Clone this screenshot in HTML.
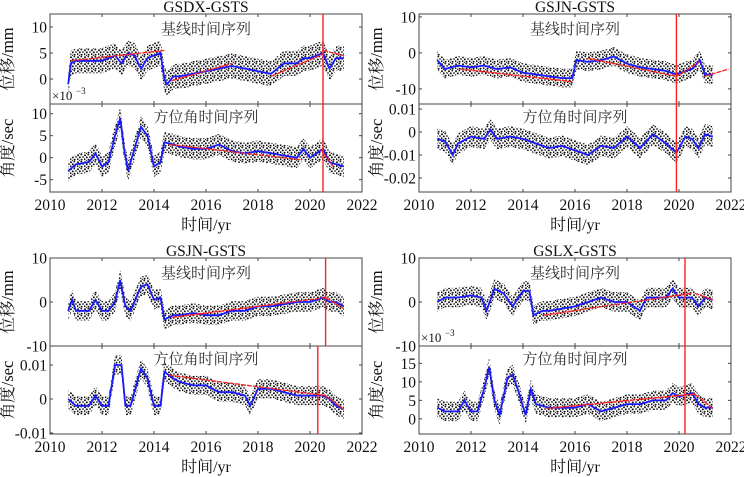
<!DOCTYPE html>
<html><head><meta charset="utf-8">
<style>
html,body{margin:0;padding:0;background:#fff;}
svg{display:block;font-family:"Liberation Serif","Noto Serif CJK SC","Noto Sans CJK SC",serif;}
</style></head>
<body>
<svg id="chart" width="744" height="477" viewBox="0 0 744 477">
<defs>
<pattern id="dots" width="7" height="7" patternUnits="userSpaceOnUse">
<rect width="7" height="7" fill="#fff"/>
<circle cx="1" cy="1.2" r="1" fill="#111"/>
<circle cx="4.3" cy="0.6" r="0.9" fill="#222"/>
<circle cx="2.8" cy="3.4" r="1" fill="#111"/>
<circle cx="6" cy="3" r="0.9" fill="#222"/>
<circle cx="0.6" cy="5.2" r="0.9" fill="#111"/>
<circle cx="4.6" cy="5.8" r="1" fill="#111"/>
<circle cx="2.5" cy="6.5" r="0.7" fill="#333"/>
</pattern>
</defs>
</svg>
<script>
// ---- data ----
const yrsA1=[2010.7,2010.8,2011,2011.5,2012,2012.5,2012.75,2013,2013.25,2013.5,2013.75,2014,2014.25,2014.4,2014.5,2014.75,2015,2015.5,2016,2016.5,2017,2017.5,2018,2018.5,2018.75,2019,2019.5,2019.75,2020,2020.25,2020.5,2020.75,2021,2021.3];
const baseA1=[-1,3,3.5,3.5,3.5,4.5,3,5,4.5,2,4,4.5,5,0,-1,0.5,0.5,1,1.5,2,2.5,2,1.5,1,2,3,3,4,4,4.5,5,2,4,4];
const sprA1=2.4;
const yrsB1=[2010.7,2011,2011.5,2011.75,2012,2012.25,2012.5,2012.7,2012.85,2013,2013.25,2013.5,2013.75,2014,2014.25,2014.4,2014.75,2015,2015.5,2016,2016.5,2017,2017.5,2018,2018.5,2019,2019.5,2019.75,2020,2020.25,2020.5,2020.75,2021,2021.3];
const angB1=[-3,-1.5,-1,1,-2,-1,5,9,2,-3,2,7,5,-2,-1,3.5,3,2.5,2,2,3,1.5,1,1.5,1,0.5,0,2,0,1,2,-1,-1.5,-2];
const sprB1=2.4;
const trendA1=[[2010.8,3.5,2014.4,5.5],[2014.7,-0.3,2017,3],[2018.5,0.5,2020.5,4.8],[2020.5,5.5,2021.3,4.5]];
const trendB1=[[2014.6,3,2019.7,-0.5],[2020.4,2,2020.9,-2]];

const yrsA2=[2010.7,2011,2011.5,2012,2012.5,2013,2013.5,2014,2014.5,2015,2015.5,2015.9,2016.05,2016.5,2017,2017.5,2018,2018.5,2019,2019.5,2019.9,2020.25,2020.5,2020.8,2021,2021.3];
const baseA2=[-2,-4.5,-3.5,-4,-3.5,-4.5,-4,-5.5,-6,-6.5,-7,-7,-2,-2.5,-2,-1,-3,-4,-4.5,-5,-6,-5,-4.5,-2,-6,-6];
const sprA2=2.6;
const yrsB2=[2010.7,2011,2011.3,2011.5,2012,2012.5,2012.75,2013,2013.5,2014,2014.5,2015,2015.5,2016,2016.5,2017,2017.5,2018,2018.5,2019,2019.5,2019.9,2020.25,2020.5,2020.75,2021,2021.3];
const angB2=[-0.003,-0.004,-0.01,-0.005,-0.002,-0.003,0.001,-0.003,-0.002,-0.003,-0.005,-0.007,-0.006,-0.008,-0.01,-0.006,-0.007,-0.002,-0.007,-0.001,-0.005,-0.009,-0.002,-0.003,-0.007,-0.001,-0.002];
const sprB2=0.0045;
const trendA2=[[2011.6,-4.5,2015.9,-8],[2016.5,-1.5,2019.9,-6.5],[2019.9,-6.5,2020.8,-2.5],[2021,-6.5,2021.9,-4.5]];
const trendB2=[];

const yrsA3=[2010.7,2010.85,2011,2011.5,2011.75,2012,2012.25,2012.5,2012.7,2012.9,2013.1,2013.5,2013.75,2014,2014.25,2014.4,2014.75,2015,2015.5,2016,2016.5,2017,2017.5,2018,2018.5,2019,2019.5,2020,2020.5,2020.75,2021,2021.3];
const baseA3=[-2,0.5,-2,-2,0.5,-2,-2,0,5,-1,-2,3.5,4,0.5,1,-4,-3,-3,-2.5,-3,-3,-2,-2,-1,-1,-0.5,0,0,1,0,0,-1];
const sprA3=2.2;
const yrsB3=[2010.7,2011,2011.5,2011.75,2012,2012.25,2012.5,2012.75,2012.9,2013.1,2013.5,2013.75,2014,2014.25,2014.4,2014.75,2015,2015.5,2016,2016.5,2017,2017.5,2017.7,2018,2018.5,2019,2019.5,2020,2020.5,2020.75,2021,2021.3];
const angB3=[0,-0.002,-0.002,0.001,-0.002,-0.002,0.01,0.01,-0.002,-0.002,0.009,0.006,-0.002,-0.002,0.008,0.006,0.005,0.004,0.004,0.002,0.002,0.001,-0.002,0.003,0.003,0.002,0.001,0.001,0.001,0,-0.002,-0.003];
const sprB3=0.0028;
const trendA3=[[2014.7,-3.5,2020.6,1],[2020.6,1,2021.3,-1.5]];
const trendB3=[[2014.6,0.007,2020.6,0.001],[2020.6,0.001,2021.3,-0.003]];

const yrsA4=[2010.7,2011,2011.5,2012,2012.4,2012.6,2012.9,2013.25,2013.6,2014,2014.25,2014.4,2014.75,2015,2015.5,2016,2016.5,2017,2017.5,2018,2018.5,2018.75,2019,2019.5,2019.75,2020,2020.5,2020.75,2021,2021.3];
const baseA4=[0,1,1,1.5,1,-2,3,2,-1,2.5,2.5,-3,-2,-2,-1.5,-1,0,1,0,0,-2,1,1,1,3,1,1,-1,1,0.5];
const sprA4=2.2;
const yrsB4=[2010.7,2011,2011.5,2011.75,2012,2012.25,2012.5,2012.7,2012.9,2013.1,2013.4,2013.6,2013.8,2014.1,2014.3,2014.5,2015,2015.5,2016,2016.5,2017,2017.5,2018,2018.5,2019,2019.5,2019.75,2020,2020.5,2020.75,2021,2021.3];
const angB4=[3,2,2,5,2,2,8,14,5,1,11,12,8,1,8,4,3,3,3,4,2,3,4,4,5,5,7,6,7,4,3,3];
const sprB4=2.6;
const trendA4=[[2014.8,-3,2020.5,2],[2020.6,2,2021.3,0.5]];
const trendB4=[[2014.9,2.8,2020.6,6.7],[2020.6,6.7,2021.3,2.8]];

const titles=["GSDX-GSTS","GSJN-GSTS","GSJN-GSTS","GSLX-GSTS"];
const xTicks=[2010,2012,2014,2016,2018,2020,2022];
const ticksA1=[0,5,10], ticksB1=[-5,0,5,10];
const ticksA2=[-10,0,10], ticksB2=[-0.02,-0.01,0,0.01];
const ticksA3=[-10,0,10], ticksB3=[-0.01,0,0.01];
const ticksA4=[-10,0,10], ticksB4=[0,5,10,15];
const vlines=[[2020.5,'both'],[2019.9,'both'],[2020.6,'upper'],[2020.3,'lower'],[2020.23,'both']];

// ---- drawing ----
const NS='http://www.w3.org/2000/svg';
const svg=document.getElementById('chart');
function mk(tag,attrs,parent){const e=document.createElementNS(NS,tag);for(const k in attrs)e.setAttribute(k,attrs[k]);(parent||svg).appendChild(e);return e;}
function txt(s,x,y,size,anchor,parent){const t=mk('text',{x:x,y:y,'font-size':size,'text-anchor':anchor||'middle',fill:'#111'},parent);t.textContent=s;return t;}

function axis(x0,x1,y0,y1,d0,d1){
  const sx=v=>x0+(v-2010)/12*(x1-x0);
  const sy=v=>y0+(d0-v)/(d0-d1)*(y1-y0);
  return {sx,sy};
}

function drawSub(g,x0,x1,y0,y1,d0,d1,yrs,vals,spr,trends,ticks,ylab,name){
  const {sx,sy}=axis(x0,x1,y0,y1,d0,d1);
  const sub=mk('g',{},g);
  
  
  const clipId='c'+name;
  const cp=mk('clipPath',{id:clipId},sub);mk('rect',{x:x0,y:y0,width:x1-x0,height:y1-y0},cp);
  const inner=mk('g',{'clip-path':'url(#'+clipId+')'},sub);
  let up=yrs.map((t,i)=>sx(t).toFixed(1)+','+sy(vals[i]+spr).toFixed(1));
  let dn=yrs.map((t,i)=>sx(t).toFixed(1)+','+sy(vals[i]-spr).toFixed(1)).reverse();
  const band=mk('polygon',{points:up.concat(dn).join(' '),fill:'url(#dots)'},inner);
  
  
  const line=mk('polyline',{points:yrs.map((t,i)=>sx(t).toFixed(1)+','+sy(vals[i]).toFixed(1)).join(' '),fill:'none',stroke:'#1a1aff','stroke-width':1.8},inner);
  
  
  trends.forEach(s=>{
    const l=mk('line',{x1:sx(s[0]),y1:sy(s[1]),x2:sx(s[2]),y2:sy(s[3]),stroke:'#ff2020','stroke-width':1.3,'stroke-dasharray':'5,1'},inner);
    
    
  });
  mk('rect',{x:x0,y:y0,width:x1-x0,height:y1-y0,fill:'none',stroke:'#444','stroke-width':1},sub);
  ticks.forEach(v=>{
    const y=sy(v);
    mk('line',{x1:x0,y1:y,x2:x0+3,y2:y,stroke:'#444'},sub);
    mk('line',{x1:x1,y1:y,x2:x1-3,y2:y,stroke:'#444'},sub);
    const t=txt(String(v),x0-3,y+5.5,15.5,'end',sub);
    
    
  });
  xTicks.forEach(v=>{
    const x=sx(v);
    mk('line',{x1:x,y1:y1,x2:x,y2:y1-3,stroke:'#444'},sub);
    mk('line',{x1:x,y1:y0,x2:x,y2:y0+3,stroke:'#444'},sub);
  });
  const yl=txt(ylab,0,0,16.5,'middle',sub);
  yl.setAttribute('transform','translate('+(x0-37)+','+((y0+y1)/2)+') rotate(-90)');
  
  
  return {sx,sy};
}

function panel(i,x0,x1,top,mid,bot,dA,dB,yA,vA,sA,tA,tkA,yB,vB,sB,tB,tkB,sci,vl){
  const g=mk('g',{});
  
  
  const tt=txt(titles[i],(x0+x1)/2,top-2,15.5,'middle',g);
  
  
  const a=drawSub(g,x0,x1,top,mid,dA[0],dA[1],yA,vA,sA,tA,tkA,'位移/mm','baseline-plot-'+(i+1));
  const b=drawSub(g,x0,x1,mid,bot,dB[0],dB[1],yB,vB,sB,tB,tkB,'角度/sec','azimuth-plot-'+(i+1));
  const l1=txt('基线时间序列',(x0+x1)/2,top+20,15,'middle',g);
  l1.setAttribute('fill','#333');
  
  
  const l2=txt('方位角时间序列',(x0+x1)/2,mid+18,15,'middle',g);
  l2.setAttribute('fill','#333');
  
  
  if(sci){const s=txt('×10',x0+2,mid-4,13,'start',g);
    
    
    const e=txt('−3',x0+26,mid-10,9,'start',g);
    
    }
  xTicks.forEach(v=>{const t=txt(String(v),a.sx(v),bot+18,15.5,'middle',g);
    
    });
  const xl=txt('时间/yr',(x0+x1)/2,bot+38,16,'middle',g);
  
  
  vl.forEach(v=>{
    const y1=v[1]==='lower'?mid:top, y2=v[1]==='upper'?mid:bot;
    const l=mk('line',{x1:a.sx(v[0]),y1:y1,x2:a.sx(v[0]),y2:y2,stroke:'#ff2020','stroke-width':1.4},g);
    
    
  });
}

panel(0,50,362,14,104,192,[12.5,-4.8],[12.2,-7.8],yrsA1,baseA1,sprA1,trendA1,ticksA1,yrsB1,angB1,sprB1,trendB1,ticksB1,true,[vlines[0]]);
panel(1,419,731,14,104,192,[10.8,-14.2],[0.0122,-0.0261],yrsA2,baseA2,sprA2,trendA2,ticksA2,yrsB2,angB2,sprB2,trendB2,ticksB2,false,[vlines[1]]);
panel(2,50,362,258,346,434,[10,-10],[0.0156,-0.0103],yrsA3,baseA3,sprA3,trendA3,ticksA3,yrsB3,angB3,sprB3,trendB3,ticksB3,false,[vlines[2],vlines[3]]);
panel(3,419,731,258,346,434,[10,-10],[19.7,-4.1],yrsA4,baseA4,sprA4,trendA4,ticksA4,yrsB4,angB4,sprB4,trendB4,ticksB4,true,[vlines[4]]);
</script>
</body></html>
